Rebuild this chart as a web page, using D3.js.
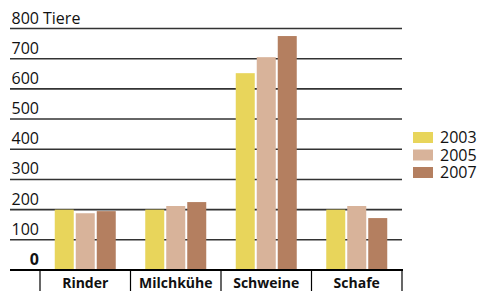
<!DOCTYPE html>
<html>
<head>
<meta charset="utf-8">
<script src="https://cdn.jsdelivr.net/npm/d3@7"></script>
<style>
  body { margin: 0; background: #fff; }
  text { font-family: "Open Sans", "Noto Sans", sans-serif; }
</style>
</head>
<body>
<div id="chart"></div>
<script>
// Chart data
const categories = ['Rinder', 'Milchkühe', 'Schweine', 'Schafe'];
const years = ['2003', '2005', '2007'];
const values2003 = [200, 200, 652, 200];
const values2005 = [188, 212, 705, 212];
const values2007 = [195, 225, 775, 172];
const yTicks = [0, 100, 200, 300, 400, 500, 600, 700, 800];
const colors = ['#E8D55B', '#D8B39A', '#B47F60'];

const width = 477, height = 291;
const series = [values2003, values2005, values2007];

const svg = d3.select('#chart')
    .append('svg')
    .attr('width', width)
    .attr('height', height);

const y = d3.scaleLinear().domain([0, 800]).range([270, 28.5]);
const x = d3.scaleBand().domain(categories).range([40, 402]);
const xInner = d3.scaleBand().domain(years).range([0, 61]).paddingInner(2 / 21);

// Gridlines
svg.selectAll('.grid')
    .data(yTicks.filter(d => d > 0))
    .enter()
    .append('line')
    .attr('x1', 10)
    .attr('x2', 402)
    .attr('y1', d => y(d))
    .attr('y2', d => y(d))
    .style('stroke', '#333')
    .style('stroke-width', 1.6);

// Tick labels
svg.selectAll('.ytick')
    .data(yTicks)
    .enter()
    .append('text')
    .attr('x', 39)
    .attr('y', d => y(d) - 5)
    .attr('text-anchor', 'end')
    .style('font-size', '16px')
    .style('font-weight', d => d === 0 ? 'bold' : 'normal')
    .style('fill', '#111')
    .text(d => d);

svg.append('text')
    .attr('x', 43)
    .attr('y', y(800) - 5)
    .style('font-size', '16px')
    .style('fill', '#111')
    .text('Tiere');

// Bars
const groups = svg.selectAll('.group')
    .data(categories)
    .enter()
    .append('g')
    .attr('transform', d => `translate(${x(d) + (x.bandwidth() - 61) / 2},0)`);

groups.selectAll('rect')
    .data((d, i) => years.map((yr, j) => ({ yr, v: series[j][i], c: colors[j] })))
    .enter()
    .append('rect')
    .attr('x', d => xInner(d.yr))
    .attr('width', xInner.bandwidth())
    .attr('y', d => y(d.v))
    .attr('height', d => y(0) - y(d.v))
    .style('fill', d => d.c);

// Baseline and category dividers
svg.append('line')
    .attr('x1', 10).attr('x2', 403)
    .attr('y1', y(0)).attr('y2', y(0))
    .style('stroke', '#000')
    .style('stroke-width', 2.2);

const dividers = categories.map(c => x(c)).concat([x.range()[1]]);
svg.selectAll('.divider')
    .data(dividers)
    .enter()
    .append('line')
    .attr('x1', d => d).attr('x2', d => d)
    .attr('y1', y(0)).attr('y2', height)
    .style('stroke', '#000')
    .style('stroke-width', 1.2);

svg.selectAll('.cat')
    .data(categories)
    .enter()
    .append('text')
    .attr('x', d => x(d) + x.bandwidth() / 2)
    .attr('y', 288)
    .attr('text-anchor', 'middle')
    .style('font-size', '14px')
    .style('font-weight', 'bold')
    .style('fill', '#111')
    .text(d => d);

// Legend
const legend = svg.selectAll('.legend')
    .data(years)
    .enter()
    .append('g')
    .attr('transform', (d, i) => `translate(413,${132 + i * 17.5})`);

legend.append('rect')
    .attr('width', 20)
    .attr('height', 11)
    .style('fill', (d, i) => colors[i]);

legend.append('text')
    .attr('x', 27)
    .attr('y', 11)
    .style('font-size', '16px')
    .style('fill', '#111')
    .text(d => d);
</script>
</body>
</html>
